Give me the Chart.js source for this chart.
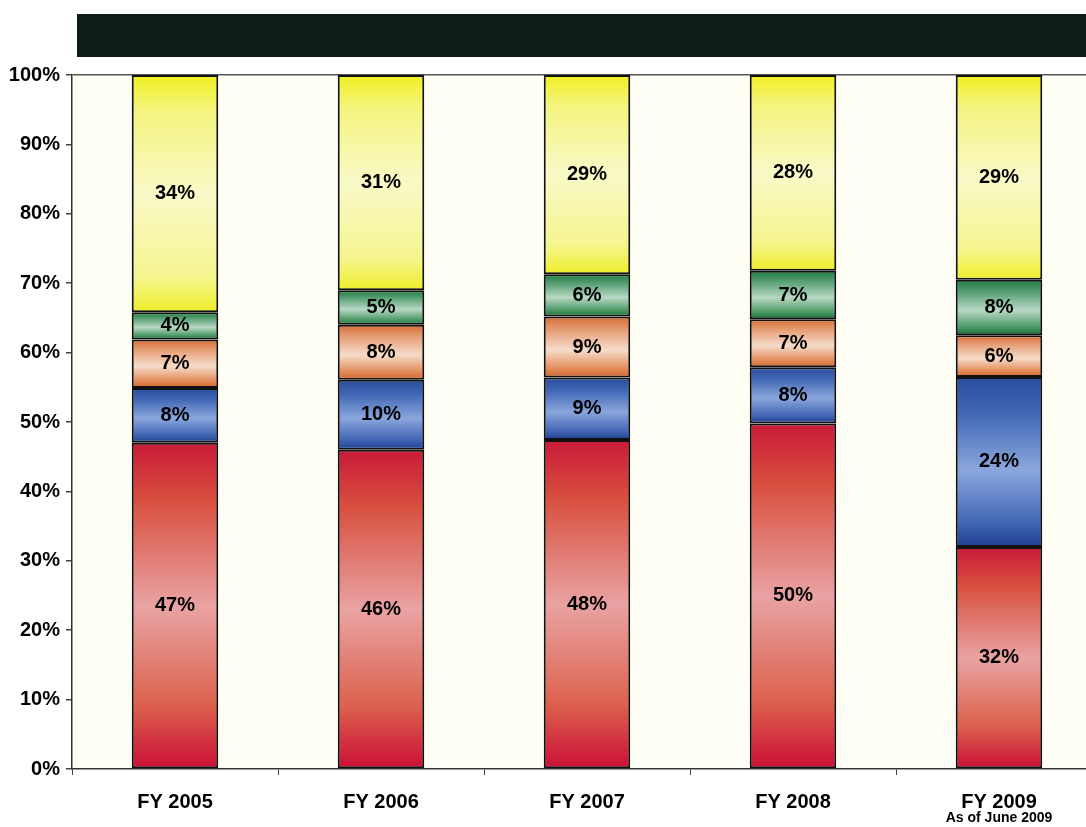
<!DOCTYPE html>
<html>
<head>
<meta charset="utf-8">
<script src="https://cdn.jsdelivr.net/npm/chart.js@4/dist/chart.umd.min.js"></script>
<style>
  body { margin: 0; background: #fff; overflow: hidden; }
  #header { position: absolute; left: 77px; top: 14px; width: 1020px; height: 43px; background: #0f1c16; }
  #wrap { position: absolute; left: 0; top: 0; }
</style>
</head>
<body>
<div id="header"></div>
<div id="wrap"><canvas id="myChart" width="1110" height="827"></canvas></div>
<script>
const years = ["FY 2005", "FY 2006", "FY 2007", "FY 2008", "FY 2009"];
const yearNotes = ["", "", "", "", "As of June 2009"];

// segment values, bottom to top
const red = [47.0, 46.0, 47.4, 49.8, 32.0];
const blue = [7.9, 10.1, 9.0, 8.1, 24.5];
const orange = [7.0, 7.9, 8.8, 6.9, 6.0];
const green = [3.9, 5.0, 6.1, 7.0, 8.0];
const yellow = [34.2, 31.0, 28.7, 28.2, 29.5];

// printed labels
const redLabels = ["47%", "46%", "48%", "50%", "32%"];
const blueLabels = ["8%", "10%", "9%", "8%", "24%"];
const orangeLabels = ["7%", "8%", "9%", "7%", "6%"];
const greenLabels = ["4%", "5%", "6%", "7%", "8%"];
const yellowLabels = ["34%", "31%", "29%", "28%", "29%"];

const yTicks = [0, 10, 20, 30, 40, 50, 60, 70, 80, 90, 100];

const series = [red, blue, orange, green, yellow];
const seriesLabels = [redLabels, blueLabels, orangeLabels, greenLabels, yellowLabels];

const stops = [
  [[0, "#c91a38"], [0.18, "#d8503f"], [0.5, "#e9a3a3"], [0.8, "#dc624e"], [1, "#cb0f36"]],
  [[0, "#2a4c9e"], [0.2, "#3f66b4"], [0.55, "#8aa6dc"], [0.85, "#4468b6"], [1, "#1f3f92"]],
  [[0, "#d86a34"], [0.2, "#e59a70"], [0.55, "#f6dcca"], [0.85, "#e38d5c"], [1, "#d4642c"]],
  [[0, "#1c7a3c"], [0.25, "#5fa47a"], [0.55, "#b8d8c4"], [0.85, "#4e9a68"], [1, "#157034"]],
  [[0, "#f0f020"], [0.15, "#f4f47e"], [0.5, "#f9f9c8"], [0.85, "#f5f590"], [1, "#eeee2a"]]
];

function segGradient(ctx) {
  const chart = ctx.chart;
  const area = chart.chartArea;
  if (!area || ctx.type !== "data") return "#ccc";
  const ds = ctx.datasetIndex, i = ctx.dataIndex;
  let bottom = 0;
  for (let k = 0; k < ds; k++) bottom += series[k][i];
  const top = bottom + series[ds][i];
  const y = chart.scales.y;
  const g = chart.ctx.createLinearGradient(0, y.getPixelForValue(top), 0, y.getPixelForValue(bottom));
  stops[ds].forEach(s => g.addColorStop(s[0], s[1]));
  return g;
}

const plotBg = {
  id: "plotBg",
  beforeDraw(chart) {
    const a = chart.chartArea, c = chart.ctx;
    c.save();
    c.fillStyle = "#fffef4";
    c.fillRect(a.left, a.top, a.right - a.left, a.bottom - a.top);
    c.restore();
  }
};

const segLabels = {
  id: "segLabels",
  afterDatasetsDraw(chart) {
    const c = chart.ctx;
    c.save();
    c.font = "bold 20px 'Liberation Sans', Arial, sans-serif";
    c.fillStyle = "#000";
    c.textAlign = "center";
    c.textBaseline = "middle";
    chart.data.datasets.forEach((d, ds) => {
      chart.getDatasetMeta(ds).data.forEach((bar, i) => {
        const p = bar.getProps(["x", "y", "base"], true);
        c.fillText(seriesLabels[ds][i], p.x, (p.y + p.base) / 2);
      });
    });
    // second line under the last category
    c.font = "bold 14px 'Liberation Sans', Arial, sans-serif";
    const xs = chart.scales.x;
    yearNotes.forEach((n, i) => {
      if (n) c.fillText(n, xs.getPixelForValue(i), 818);
    });
    c.restore();
  }
};

const names = ["Red", "Blue", "Orange", "Green", "Yellow"];

const data = {
  labels: years,
  datasets: series.map((vals, k) => ({
    label: names[k],
    data: vals,
    backgroundColor: segGradient,
    borderColor: "#111",
    borderWidth: 2,
    borderSkipped: false,
    categoryPercentage: 1,
    barPercentage: 0.42
  }))
};

const config = {
  type: "bar",
  data: data,
  options: {
    responsive: false,
    animation: false,
    devicePixelRatio: 1,
    layout: { padding: { top: 75, right: 8, left: 0, bottom: 0 } },
    plugins: {
      legend: { display: false },
      tooltip: { enabled: false }
    },
    scales: {
      x: {
        stacked: true,
        grid: { drawOnChartArea: false, tickLength: 6, color: "#444", offset: true },
        border: { display: true, color: "#333", width: 1.5 },
        ticks: {
          color: "#000",
          padding: 15,
          font: { family: "'Liberation Sans', Arial, sans-serif", size: 20, weight: "bold" }
        },
        afterFit(scale) { scale.height = 58; }
      },
      y: {
        stacked: true,
        min: 0,
        max: 100,
        afterBuildTicks(scale) { scale.ticks = yTicks.map(v => ({ value: v })); },
        grid: {
          drawOnChartArea: true,
          tickLength: 6,
          tickColor: "#444",
          color: (ctx) => (ctx.tick && ctx.tick.value === 100 ? "#555" : "rgba(0,0,0,0)"),
          lineWidth: 1.5
        },
        border: { display: true, color: "#333", width: 1.5 },
        ticks: {
          color: "#000",
          padding: 6,
          callback: (v) => v + "%",
          font: { family: "'Liberation Sans', Arial, sans-serif", size: 20, weight: "bold" }
        },
        afterFit(scale) { scale.width = 72; }
      }
    }
  },
  plugins: [plotBg, segLabels]
};

const myChart = new Chart(document.getElementById("myChart"), config);
</script>
</body>
</html>
